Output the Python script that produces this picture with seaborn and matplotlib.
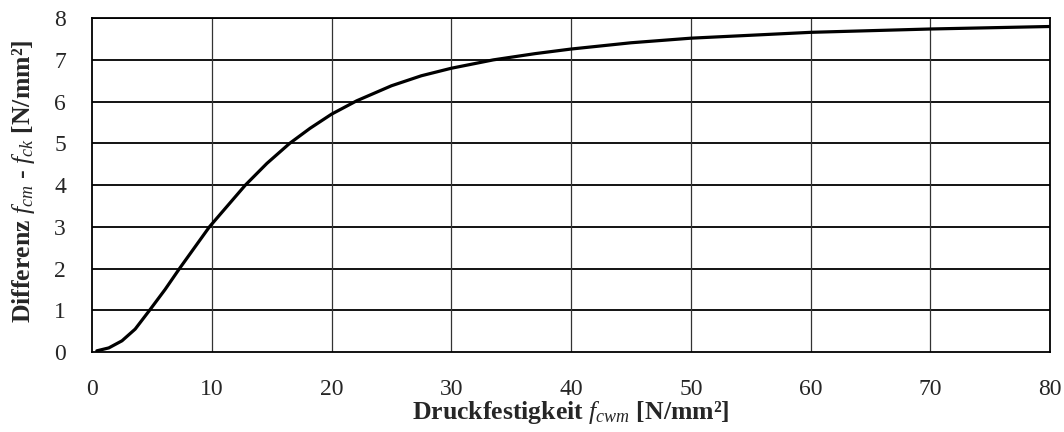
import numpy as np
import pandas as pd
import matplotlib
matplotlib.use("Agg")
import matplotlib.pyplot as plt
import seaborn as sns

# Difference between mean and characteristic compressive strength
festigkeit = [0.4, 1.4, 2.5, 3.6, 4.8, 6.1, 7.3, 8.0, 9.8, 11.0, 12.8, 14.6, 16.5, 18.2,
              20, 22.1, 25, 27.5, 30, 33.5, 37, 40, 45, 50, 55, 60, 65, 70, 75, 80]
differenz = [0.03, 0.10, 0.27, 0.55, 1.0, 1.5, 2.0, 2.28, 3.0, 3.4, 4.0, 4.52, 5.0, 5.36,
             5.70, 6.02, 6.38, 6.62, 6.80, 7.0, 7.15, 7.26, 7.41, 7.52, 7.59, 7.66, 7.70,
             7.74, 7.77, 7.80]
x_ticks = [0, 10, 20, 30, 40, 50, 60, 70, 80]
y_ticks = [0, 1, 2, 3, 4, 5, 6, 7, 8]

sns.set_style("white")
plt.rcParams["font.family"] = ["Liberation Serif", "DejaVu Serif"]
plt.rcParams["mathtext.fontset"] = "custom"
plt.rcParams["mathtext.rm"] = "Liberation Serif"
plt.rcParams["mathtext.it"] = "Liberation Serif:italic"
plt.rcParams["mathtext.bf"] = "Liberation Serif:bold"

df = pd.DataFrame({"x": festigkeit, "y": differenz})

fig = plt.figure(figsize=(10.64, 4.32), dpi=100)
ax = fig.add_axes([0.0865, 0.185, 0.9005, 0.773])

ax.set_xlim(0, 80)
ax.set_ylim(0, 8)
ax.set_xticks(x_ticks)
ax.set_yticks(y_ticks)
for v in y_ticks[1:]:
    ax.axhline(v, color="black", lw=1.3, zorder=1)
for v in x_ticks[1:]:
    ax.axvline(v, color="#333333", lw=0.9, zorder=1)

sns.lineplot(data=df, x="x", y="y", ax=ax, color="black", lw=2.3, zorder=3)

for s in ax.spines.values():
    s.set_color("black")
    s.set_linewidth(1.3)

ax.tick_params(axis="x", length=0, pad=19.4, labelsize=17)
ax.tick_params(axis="y", length=0, pad=18.7, labelsize=17)

ax.set_xlabel(r"Druckfestigkeit $f_{cwm}$ [N/mm²]", fontsize=18.5, fontweight="bold")
ax.set_ylabel(r"Differenz $f_{cm}$ - $f_{ck}$ [N/mm²]", fontsize=18.5, fontweight="bold")
ax.xaxis.set_label_coords(0.5, -0.142)
ax.yaxis.set_label_coords(-0.057, 0.51)

fig.savefig("out.png", dpi=100)
